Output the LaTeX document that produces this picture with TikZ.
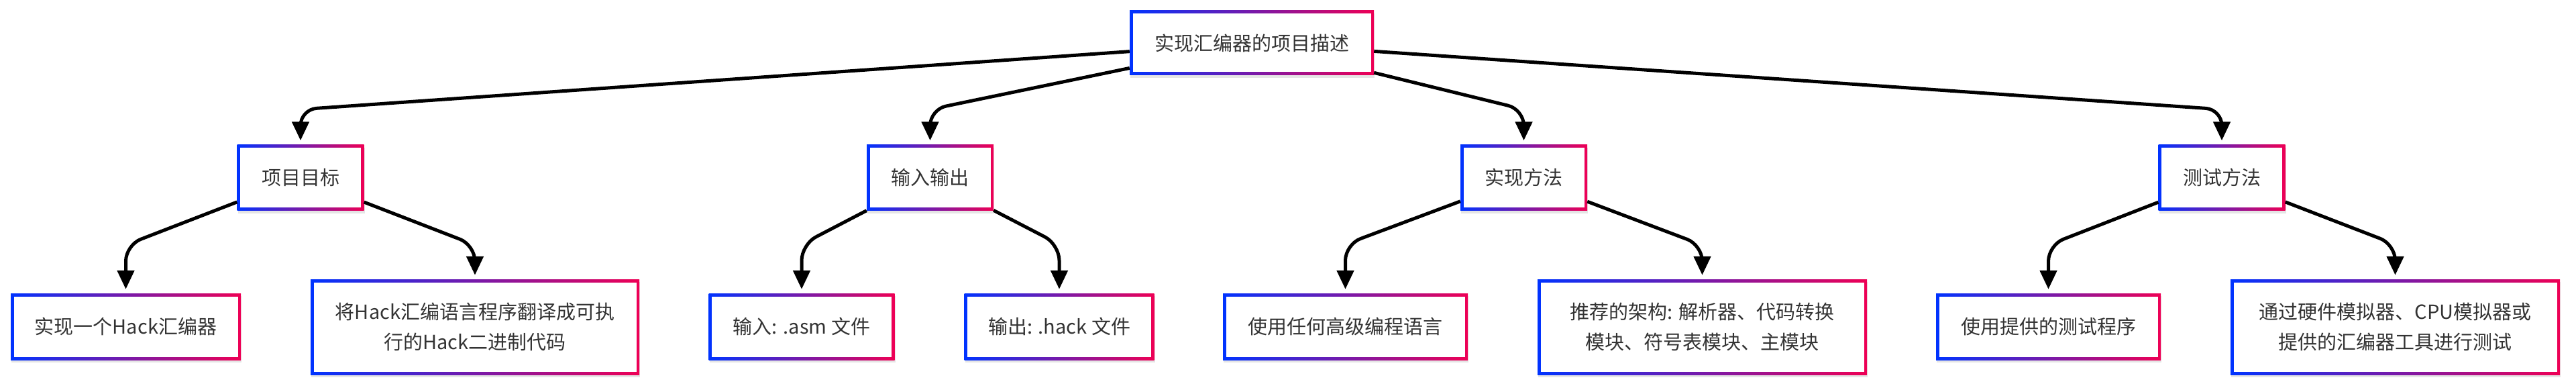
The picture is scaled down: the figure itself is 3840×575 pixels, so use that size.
\documentclass[tikz,border=0pt]{standalone}
\usepackage{fontspec}
\setmainfont{Noto Sans CJK SC}
\usetikzlibrary{arrows.meta,shadows}
\definecolor{cblue}{RGB}{0,51,255}
\definecolor{cred}{RGB}{238,0,85}
\definecolor{textgray}{RGB}{51,51,51}
\tikzset{
  gbox/.style={rectangle, inner sep=0pt, align=center, text=textgray,
    font=\fontsize{29}{45}\selectfont,
    drop shadow={shadow xshift=1pt, shadow yshift=-4pt, opacity=0.10, fill=black},
    left color=cblue, right color=cred,
    path picture={\fill[white] ([shift={(4.5pt,-4.5pt)}]path picture bounding box.north west) rectangle ([shift={(-4.5pt,4.5pt)}]path picture bounding box.south east);}},
  midbox/.style={gbox, minimum width=189pt, minimum height=98pt},
  leafbox/.style={gbox, minimum height=99pt},
  bigleaf/.style={gbox, minimum height=142pt, minimum width=491pt},
  conn/.style={line width=5pt, rounded corners=24pt, -{Triangle[width=25pt,length=28pt]}, shorten >=6pt}
}
\begin{document}
\begin{tikzpicture}[x=1pt,y=-1pt]
\useasboundingbox (0,0) rectangle (3840,575);
% root
\node[gbox, minimum width=364pt, minimum height=96pt] (root) at (1866,64) {实现汇编器的项目描述};
% middle
\node[midbox] (goal) at (448,264.5) {项目目标};
\node[midbox] (io) at (1386.5,264.5) {输入输出};
\node[midbox] (impl) at (2271.5,264.5) {实现方法};
\node[midbox] (test) at (3312,264.5) {测试方法};
% leaves
\node[leafbox, minimum width=343pt] (l1) at (187.5,486.5) {实现一个Hack汇编器};
\node[bigleaf, minimum width=490pt] (l2) at (708,487) {将Hack汇编语言程序翻译成可执\\行的Hack二进制代码};
\node[leafbox, minimum width=277pt] (l3) at (1195,486.5) {输入: .asm 文件};
\node[leafbox, minimum width=283pt] (l4) at (1579,486.5) {输出: .hack 文件};
\node[leafbox, minimum width=365pt] (l5) at (2005.5,486.5) {使用任何高级编程语言};
\node[bigleaf] (l6) at (2537.5,487) {推荐的架构: 解析器、代码转换\\模块、符号表模块、主模块};
\node[leafbox, minimum width=335pt] (l7) at (3053.5,486.5) {使用提供的测试程序};
\node[bigleaf] (l8) at (3570.5,487) {通过硬件模拟器、CPU模拟器或\\提供的汇编器工具进行测试};
% bend points
\coordinate (cgoal) at (448,163);
\coordinate (cio) at (1386.5,163);
\coordinate (cimpl) at (2271.5,163);
\coordinate (ctest) at (3312,163);
\coordinate (c1) at (187.5,365);
\coordinate (c2) at (708,365);
\coordinate (c3) at (1195,364);
\coordinate (c4) at (1579,364);
\coordinate (c5) at (2005.5,364);
\coordinate (c6) at (2537.5,365);
\coordinate (c7) at (3053.5,365);
\coordinate (c8) at (3570.5,364);
% connectors
\draw[conn] (root) -- (cgoal) -- (goal);
\draw[conn] (root) -- (cio) -- (io);
\draw[conn] (root) -- (cimpl) -- (impl);
\draw[conn] (root) -- (ctest) -- (test);
\draw[conn] (goal) -- (c1) -- (l1);
\draw[conn] (goal) -- (c2) -- (l2);
\draw[conn] (io) -- (c3) -- (l3);
\draw[conn] (io) -- (c4) -- (l4);
\draw[conn] (impl) -- (c5) -- (l5);
\draw[conn] (impl) -- (c6) -- (l6);
\draw[conn] (test) -- (c7) -- (l7);
\draw[conn] (test) -- (c8) -- (l8);
\end{tikzpicture}
\end{document}
